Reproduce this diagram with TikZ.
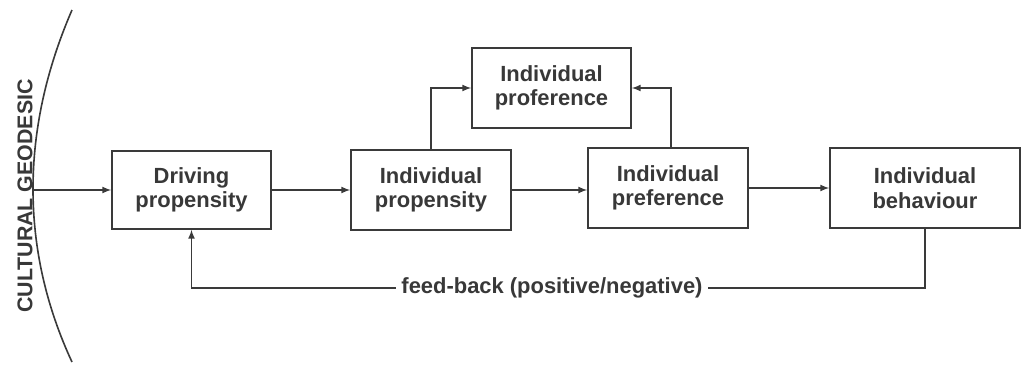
\documentclass[tikz,border=0pt]{standalone}
\usepackage{fontspec}
\setmainfont{Liberation Sans}
\usepackage{tikz}
\usetikzlibrary{calc,arrows}
\definecolor{linegray}{HTML}{3A3A3A}
\definecolor{textgray}{HTML}{383838}
\begin{document}
\begin{tikzpicture}[x=0.025cm,y=-0.025cm,line width=1.15pt,
    block/.style={draw=linegray,fill=white,align=center,inner sep=0pt,
      font=\fontsize{15.6}{17.5}\selectfont\bfseries,text=textgray},
    link/.style={-latex,draw=linegray}]
              \useasboundingbox (0,0) rectangle (1021,370);
              \draw[linegray] (72,10) .. controls (20,130) and (20,250) .. (72,362);
              \node[rotate=90,text=textgray,font=\fontsize{15.2}{17}\selectfont\bfseries](geolbl)at(25,196){CULTURAL GEODESIC};
              \coordinate (geo) at (33,190);
              \node[block,minimum width=3.975cm,minimum height=1.95cm](drv)at(191.5,190){Driving\\propensity};
              \node[block,minimum width=4cm,minimum height=2cm](prop)at(431,190){Individual\\propensity};
              \node[block,minimum width=3.975cm,minimum height=2cm](profer)at(551.5,88){Individual\\proference};
              \node[block,minimum width=4cm,minimum height=2cm](prefer)at(668,188){Individual\\preference};
              \node[block,minimum width=4.75cm,minimum height=2cm](beh)at(925,188){Individual\\behaviour};
              \draw[link](geo)--(drv.west|-geo);
              \draw[link](drv)--(prop);
              \draw[link](prop)--(prop-|prefer.west);
              \draw[link](prefer)--(beh);
              \draw[link](prop.north)|-(profer.west);
              \draw[link](prefer.north-|671,0)|-(profer.east);
              \coordinate (fb) at (552,288);
              \draw[link](beh.south)|-(fb)-|(drv.south);
              \node[fill=white,inner xsep=4pt,inner ysep=1pt,text=textgray,font=\fontsize{15.6}{17.5}\selectfont\bfseries](fblbl)at(fb){feed-back (positive/negative)};
            \end{tikzpicture}
\end{document}
